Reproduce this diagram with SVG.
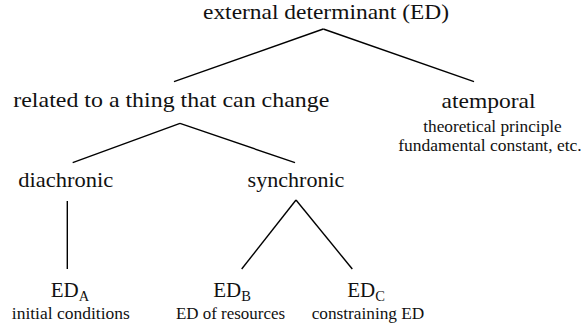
<svg xmlns="http://www.w3.org/2000/svg" width="584" height="329" viewBox="0 0 584 329">
<style>
text { font-family: "Liberation Serif", "DejaVu Serif", serif; fill: #111; text-anchor: middle; }
.m { font-size: 21px; }
.s { font-size: 16px; }
.sub { font-size: 14.5px; }
#connectors line { stroke: #000; stroke-width: 1.4; stroke-linecap: butt; fill: none; }
</style>
<rect width="584" height="329" fill="#fff"/>
<g id="connectors">
  <line x1="323.3" y1="29" x2="174" y2="81.7"/>
  <line x1="323.3" y1="29" x2="474" y2="81.7"/>
  <line x1="180" y1="123.3" x2="72.7" y2="162.7"/>
  <line x1="180" y1="123.3" x2="295" y2="162.7"/>
  <line x1="67.3" y1="201" x2="67.3" y2="269"/>
  <line x1="296" y1="200" x2="241.7" y2="269"/>
  <line x1="296" y1="200" x2="352.3" y2="269"/>
</g>
<g id="node-ed">
  <text class="m" x="326" y="18.5" textLength="246" lengthAdjust="spacingAndGlyphs">external determinant (ED)</text>
</g>
<g id="node-related">
  <text class="m" x="171.3" y="107" textLength="316" lengthAdjust="spacingAndGlyphs">related to a thing that can change</text>
</g>
<g id="node-atemporal">
  <text class="m" x="488.5" y="108" textLength="94" lengthAdjust="spacingAndGlyphs">atemporal</text>
  <text class="s" x="492.5" y="131.5" textLength="138.5" lengthAdjust="spacingAndGlyphs">theoretical principle</text>
  <text class="s" x="490" y="150.5" textLength="183.4" lengthAdjust="spacingAndGlyphs">fundamental constant, etc.</text>
</g>
<g id="node-diachronic">
  <text class="m" x="65.8" y="187.3" textLength="95" lengthAdjust="spacingAndGlyphs">diachronic</text>
</g>
<g id="node-synchronic">
  <text class="m" x="296" y="187.3" textLength="96.8" lengthAdjust="spacingAndGlyphs">synchronic</text>
</g>
<g id="node-eda">
  <text class="m" x="70" y="296.7">ED<tspan class="sub" dy="4.5">A</tspan></text>
  <text class="s" x="70.8" y="319" textLength="118" lengthAdjust="spacingAndGlyphs">initial conditions</text>
</g>
<g id="node-edb">
  <text class="m" x="232" y="296.7">ED<tspan class="sub" dy="4.5">B</tspan></text>
  <text class="s" x="230.5" y="319" textLength="109" lengthAdjust="spacingAndGlyphs">ED of resources</text>
</g>
<g id="node-edc">
  <text class="m" x="366" y="296.7">ED<tspan class="sub" dy="4.5">C</tspan></text>
  <text class="s" x="368" y="319" textLength="112.6" lengthAdjust="spacingAndGlyphs">constraining ED</text>
</g>
</svg>
